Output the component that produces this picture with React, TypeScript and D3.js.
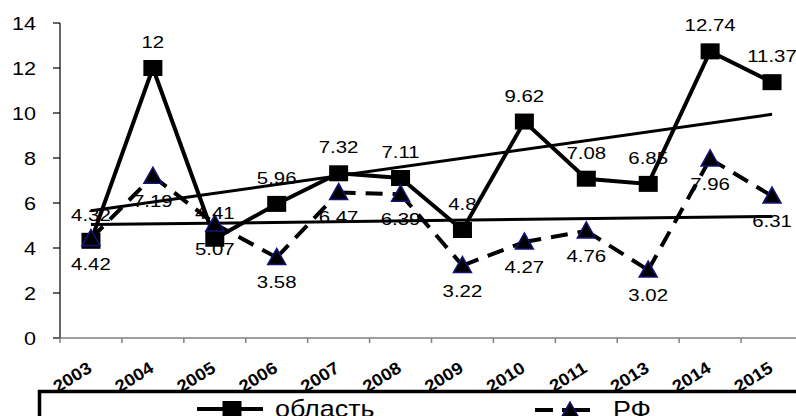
import React from 'react';
import * as d3 from 'd3';

const years = ['2003', '2004', '2005', '2006', '2007', '2008', '2009', '2010', '2011', '2013', '2014', '2015'];
const oblast = [4.32, 12, 4.41, 5.96, 7.32, 7.11, 4.8, 9.62, 7.08, 6.85, 12.74, 11.37];
const rf = [4.42, 7.19, 5.07, 3.58, 6.47, 6.39, 3.22, 4.27, 4.76, 3.02, 7.96, 6.31];
const yTicks = [0, 2, 4, 6, 8, 10, 12, 14];
const seriesNames = ['область', 'РФ'];

const FONT = '"Liberation Sans", Arial, sans-serif';
const SX = 1.2;

function trend(vals: number[]) {
  const n = vals.length;
  const mx = d3.mean(vals.map((_, i) => i)) as number;
  const my = d3.mean(vals) as number;
  let sxy = 0, sxx = 0;
  vals.forEach((v, i) => { sxy += (i - mx) * (v - my); sxx += (i - mx) * (i - mx); });
  const b = sxy / sxx;
  const a = my - b * mx;
  return [a, a + b * (n - 1)];
}

function STxt({ x, y, children, size, anchor = 'middle', weight = 'normal', sx = SX }: any) {
  return (
    <g transform={`translate(${x},${y}) scale(${sx},1)`}>
      <text x={0} y={0} textAnchor={anchor} fontSize={size} fontWeight={weight} fontFamily={FONT} fill="#000">{children}</text>
    </g>
  );
}

function Tri({ cx, cy }: { cx: number; cy: number }) {
  const w = 18, h = 16;
  const p = `${cx},${cy - h / 2 - 1} ${cx + w / 2},${cy + h / 2 - 1} ${cx - w / 2},${cy + h / 2 - 1}`;
  return <polygon points={p} fill="#000" stroke="#14147a" strokeWidth={1.5} />;
}

function Sq({ cx, cy }: { cx: number; cy: number }) {
  return <rect x={cx - 9.5} y={cy - 8} width={19} height={16} fill="#000" />;
}

export default function App() {
  const x = d3.scaleBand<string>().domain(years).range([60, 803]).paddingInner(0).paddingOuter(0);
  const y = d3.scaleLinear().domain([0, 14]).range([338, 23]);
  const cx = (i: number) => (x(years[i]) as number) + x.bandwidth() / 2;

  const line = d3.line<number>().x((_, i) => cx(i)).y((d) => y(d));
  const to = trend(oblast);
  const tr = trend(rf);
  const n = years.length;

  return (
    <svg width={796} height={416} style={{ position: 'absolute', left: 0, top: 0, background: '#fff' }}>
      <rect x={0} y={0} width={796} height={416} fill="#fff" />
      {/* y axis */}
      <line x1={60} x2={60} y1={y(14)} y2={y(0)} stroke="#000" strokeWidth={1.2} />
      {yTicks.map((t) => (
        <g key={t}>
          <line x1={53} x2={60} y1={y(t)} y2={y(t)} stroke="#000" strokeWidth={1.2} />
          <STxt x={36} y={y(t) + 6.5} size={18} anchor="end">{t}</STxt>
        </g>
      ))}
      {/* x axis */}
      <line x1={60} x2={796} y1={y(0)} y2={y(0)} stroke="#808080" strokeWidth={1.5} />
      {years.map((yr) => (
        <line key={'t' + yr} x1={x(yr) as number} x2={x(yr) as number} y1={y(0)} y2={y(0) + 5} stroke="#808080" strokeWidth={1.5} />
      ))}
      {years.map((yr, i) => (
        <g key={'l' + yr} transform={`translate(${cx(i) + 2},${371}) rotate(-32) scale(1.1,1)`}>
          <text textAnchor="end" fontSize={17} fontWeight="bold" fontFamily={FONT}>{yr}</text>
        </g>
      ))}

      {/* trend lines */}
      <line x1={cx(0)} x2={cx(n - 1)} y1={y(to[0])} y2={y(to[1])} stroke="#000" strokeWidth={3} />
      <line x1={cx(0)} x2={cx(n - 1)} y1={y(tr[0])} y2={y(tr[1])} stroke="#000" strokeWidth={3} />

      {/* область */}
      <path d={line(oblast) as string} fill="none" stroke="#000" strokeWidth={4} strokeLinejoin="miter" />
      {oblast.map((v, i) => <Sq key={'s' + i} cx={cx(i)} cy={y(v)} />)}

      {/* РФ */}
      {rf.slice(0, -1).map((v, i) => (
        <line key={'d' + i} x1={cx(i)} y1={y(v)} x2={cx(i + 1)} y2={y(rf[i + 1])} stroke="#000" strokeWidth={4} strokeDasharray="17,10" />
      ))}
      {rf.map((v, i) => <Tri key={'tr' + i} cx={cx(i)} cy={y(v)} />)}

      {/* labels */}
      {oblast.map((v, i) => (
        <STxt key={'lo' + i} x={cx(i)} y={y(v) - 20} size={17}>{String(v)}</STxt>
      ))}
      {rf.map((v, i) => (
        <STxt key={'lr' + i} x={cx(i)} y={y(v) + 31} size={17}>{String(v)}</STxt>
      ))}

      {/* legend */}
      <rect x={39.5} y={391.5} width={800} height={100} fill="#fff" stroke="#000" strokeWidth={3.5} />
      <line x1={197} x2={263} y1={409} y2={409} stroke="#000" strokeWidth={4} />
      <Sq cx={232} cy={409} />
      <STxt x={275} y={417} size={24} anchor="start" sx={1.12}>{seriesNames[0]}</STxt>
      <line x1={535} x2={590} y1={410} y2={410} stroke="#000" strokeWidth={4} strokeDasharray="18,9,28" />
      <Tri cx={570} cy={411} />
      <STxt x={613} y={418} size={24} anchor="start" sx={1.12}>{seriesNames[1]}</STxt>
    </svg>
  );
}
